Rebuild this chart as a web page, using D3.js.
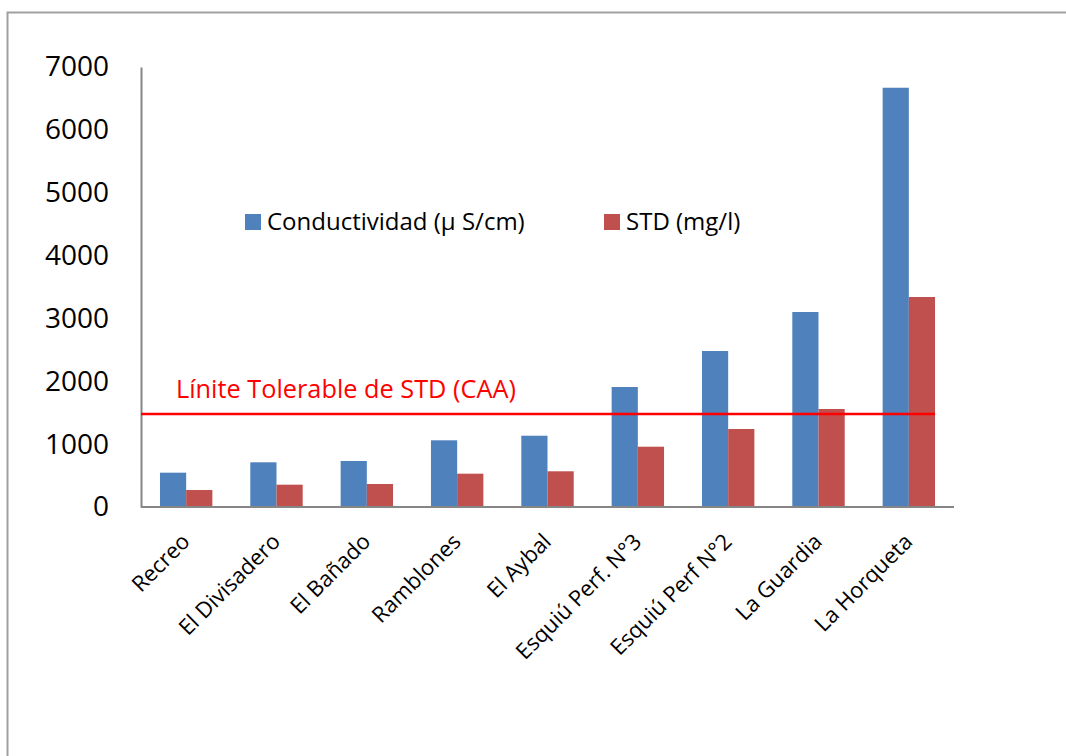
<!DOCTYPE html>
<html>
<head>
<meta charset="utf-8">
<script src="https://cdn.jsdelivr.net/npm/d3@7"></script>
<style>
  body { margin: 0; background: #fff; }
  svg { display: block; font-family: "Open Sans", "Noto Sans", sans-serif; }
</style>
</head>
<body>
<div id="chart"></div>
<script>
// data
const categories = ["Recreo", "El Divisadero", "El Bañado", "Ramblones", "El Aybal",
    "Esquiú Perf. N°3", "Esquiú Perf N°2", "La Guardia", "La Horqueta"];
const conductividad = [546, 711, 732, 1061, 1134, 1909, 2482, 3102, 6670];
const std = [270, 355, 366, 530, 568, 959, 1241, 1559, 3341];
const seriesNames = ["Conductividad (µ S/cm)", "STD (mg/l)"];
const yTicks = [0, 1000, 2000, 3000, 4000, 5000, 6000, 7000];
const limite = 1480;
const limiteLabel = "Línite Tolerable de STD (CAA)";

const w = 1066, h = 756;
const margin = { top: 67, right: 112, bottom: 249, left: 141 };
const colors = ["#4f81bd", "#c0504d"];

const svg = d3.select("#chart").append("svg")
    .attr("width", w)
    .attr("height", h);

// outer frame
svg.append("rect")
    .attr("x", 7.5).attr("y", 12.5)
    .attr("width", 1100).attr("height", 800)
    .attr("fill", "none")
    .attr("stroke", "#a0a0a0")
    .attr("stroke-width", 2);

// SCALES
const x0 = d3.scaleBand()
    .domain(categories)
    .range([margin.left, w - margin.right])
    .paddingInner(0.42)
    .paddingOuter(0.21);

const x1 = d3.scaleBand()
    .domain([0, 1])
    .range([0, x0.bandwidth()]);

const y = d3.scaleLinear()
    .domain([0, 7000])
    .range([h - margin.bottom, margin.top]);

const rows = categories.map((c, i) => ({ cat: c, vals: [conductividad[i], std[i]] }));

// BARS
const groups = svg.append("g").selectAll("g")
    .data(rows)
    .join("g")
    .attr("transform", d => "translate(" + x0(d.cat) + ",0)");

groups.selectAll("rect")
    .data(d => d.vals.map((v, k) => ({ k: k, v: v })))
    .join("rect")
    .attr("x", d => x1(d.k))
    .attr("y", d => y(d.v))
    .attr("width", x1.bandwidth())
    .attr("height", d => y(0) - y(d.v))
    .attr("fill", d => colors[d.k]);

// AXES
const yAxis = svg.append("g")
    .attr("transform", "translate(" + margin.left + ",0)")
    .call(d3.axisLeft(y).tickValues(yTicks).tickFormat(d3.format("d")).tickSize(0).tickPadding(32));
yAxis.select(".domain").attr("stroke", "#868686").attr("stroke-width", 2);
yAxis.selectAll("text").attr("font-size", 28).attr("fill", "#000")
    .attr("font-family", "Open Sans");

const xAxis = svg.append("g")
    .attr("transform", "translate(0," + (h - margin.bottom) + ")")
    .call(d3.axisBottom(x0).tickSize(0).tickPadding(0));
xAxis.select(".domain").attr("stroke", "#868686").attr("stroke-width", 2)
    .attr("d", "M" + margin.left + ",0H" + (w - margin.right));
xAxis.selectAll("text")
    .attr("font-size", 22)
    .attr("fill", "#000")
    .attr("font-family", "Open Sans")
    .attr("text-anchor", "end")
    .attr("dy", null)
    .attr("y", 0)
    .attr("transform", "translate(5,36) rotate(-45)");

// limit line
svg.append("line")
    .attr("x1", margin.left)
    .attr("x2", x0(categories[categories.length - 1]) + x0.bandwidth())
    .attr("y1", y(limite)).attr("y2", y(limite))
    .attr("stroke", "#ff0000")
    .attr("stroke-width", 2.5);

svg.append("text")
    .attr("x", 176)
    .attr("y", 398)
    .attr("font-size", 25.3)
    .attr("fill", "#ff0000")
    .text(limiteLabel);

// LEGEND
const legendX = [245, 604];
const legend = svg.append("g").selectAll("g")
    .data(seriesNames)
    .join("g")
    .attr("transform", (d, i) => "translate(" + legendX[i] + ",214)");
legend.append("rect")
    .attr("width", 16).attr("height", 16)
    .attr("fill", (d, i) => colors[i]);
legend.append("text")
    .attr("x", 22).attr("y", 16)
    .attr("font-size", 24)
    .attr("fill", "#000")
    .text(d => d);
</script>
</body>
</html>
